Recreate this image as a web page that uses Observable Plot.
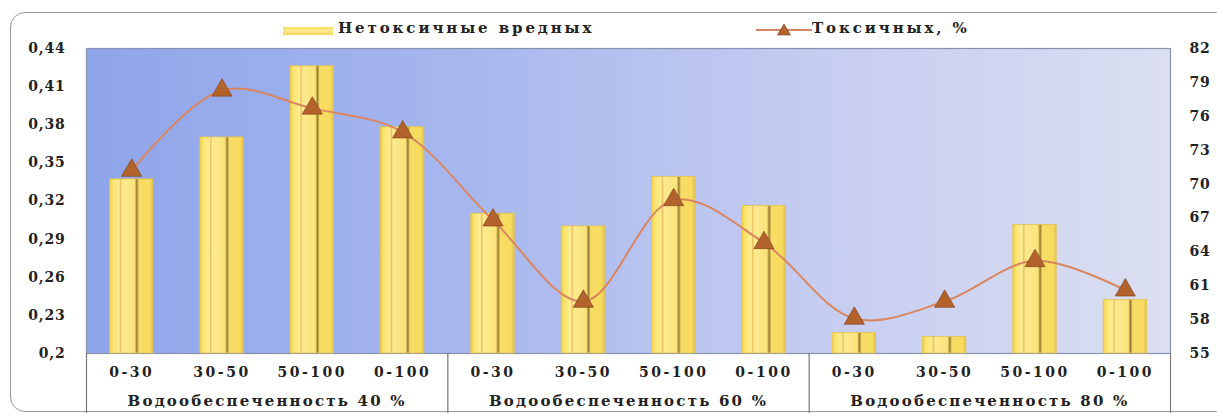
<!DOCTYPE html>
<html>
<head>
<meta charset="utf-8">
<script src="https://cdn.jsdelivr.net/npm/d3@7"></script>
<script src="https://cdn.jsdelivr.net/npm/@observablehq/plot@0.6"></script>
<style>
  html, body { margin: 0; padding: 0; background: #fff; }
  #wrap { position: relative; width: 1217px; height: 416px; overflow: hidden; font-family: "DejaVu Serif", serif; font-weight: bold; color: #222; }
  #box { position: absolute; left: 10px; top: 12px; width: 1240px; height: 400px; border: 1.5px solid #9a9a9a; border-radius: 15px; box-sizing: border-box; }
  #chart { position: absolute; left: 0; top: 0; }
  .leg { position: absolute; font-size: 15px; letter-spacing: 2.9px; white-space: nowrap; }
  #sw { position: absolute; left: 283px; top: 27px; width: 50px; height: 8px; background: linear-gradient(#f7dc5c, #fdeb94 50%, #f5d555); }
  #chart g[aria-label="x-axis tick label"] text { letter-spacing: 2.5px; }
  #chart g[aria-label="y-axis tick label"] text { letter-spacing: 0.8px; }
</style>
</head>
<body>
<div id="wrap">
  <div id="box"></div>
  <div id="chart"></div>
  <div id="sw"></div>
  <div class="leg" style="left:338px; top:19px;">Нетоксичные вредных</div>
  <svg class="leg" style="left:756px; top:22px;" width="56" height="16">
    <line x1="0" y1="8" x2="56" y2="8" stroke="#d98660" stroke-width="2"></line>
    <path d="M28,2 L34.5,13 L21.5,13 Z" fill="#b3622c" stroke="#7a3e18" stroke-width="0.6"></path>
  </svg>
  <div class="leg" style="left:812px; top:19px;">Токсичных, %</div>
</div>
<script>
// ---- data ----
const groups = ["Водообеспеченность 40 %", "Водообеспеченность 60 %", "Водообеспеченность 80 %"];
const depths = ["0-30", "30-50", "50-100", "0-100"];
const nontoxic = [0.337, 0.370, 0.426, 0.378, 0.310, 0.300, 0.339, 0.316, 0.216, 0.213, 0.301, 0.242];
const toxic = [71.2, 78.3, 76.7, 74.6, 66.8, 59.6, 68.6, 64.8, 58.1, 59.6, 63.2, 60.6];
const leftTicks = [0.2, 0.23, 0.26, 0.29, 0.32, 0.35, 0.38, 0.41, 0.44];
const rightTicks = [55, 58, 61, 64, 67, 70, 73, 76, 79, 82];

// ---- build ----
const yMin = leftTicks[0], yMax = leftTicks[leftTicks.length - 1];
const tMin = rightTicks[0], tMax = rightTicks[rightTicks.length - 1];
const toY = t => yMin + (t - tMin) * (yMax - yMin) / (tMax - tMin);
const fromY = v => Math.round(tMin + (v - yMin) * (tMax - tMin) / (yMax - yMin));

const rows = nontoxic.map((v, i) => ({
  i, group: groups[Math.floor(i / depths.length)], depth: depths[i % depths.length],
  nontoxic: v, toxic: toxic[i]
}));
const groupRows = groups.map((g, k) => {
  const idx = rows.filter(r => r.group === g).map(r => r.i);
  return {label: g, center: d3.mean(idx), start: d3.min(idx) - 0.5, end: d3.max(idx) + 0.5};
});
const bounds = Array.from(new Set(groupRows.flatMap(g => [g.start, g.end])));
const half = 0.24;

const plot = Plot.plot({
  width: 1217,
  height: 416,
  marginLeft: 86,
  marginRight: 47,
  marginTop: 48,
  marginBottom: 63,
  style: {fontFamily: "DejaVu Serif", fontWeight: "bold", fontSize: "14px", color: "#222", background: "transparent", overflow: "visible"},
  x: {domain: [-0.5, rows.length - 0.5], axis: null},
  y: {domain: [yMin, yMax], axis: null},
  marks: [
    Plot.frame({fill: "url(#bgGrad)", stroke: "#8891ad", strokeWidth: 1.2}),
    Plot.rectY(rows, {x1: d => d.i - half, x2: d => d.i + half, y1: yMin, y2: "nontoxic",
      fill: "url(#barGrad)", stroke: "#e2c24c", strokeWidth: 0.8}),
    Plot.line(rows, {x: "i", y: d => toY(d.toxic), curve: "catmull-rom", stroke: "#d98660", strokeWidth: 2}),
    Plot.dot(rows, {x: "i", y: d => toY(d.toxic), symbol: "triangle", r: 7.5, fill: "#b3622c", stroke: "#7a3e18", strokeWidth: 0.6}),
    Plot.axisY(leftTicks, {anchor: "left", label: null, tickSize: 0, tickPadding: 21, fontSize: 14, tickFormat: d => String(d).replace(".", ",")}),
    Plot.axisY(rightTicks.map(toY), {anchor: "right", label: null, tickSize: 0, tickPadding: 19, fontSize: 14, tickFormat: fromY}),
    Plot.axisX(rows.map(d => d.i), {anchor: "bottom", label: null, tickSize: 0, tickPadding: 14, fontSize: 14, tickFormat: i => rows[i].depth}),
    Plot.axisX(bounds, {anchor: "bottom", label: null, tickSize: 60, stroke: "#777", strokeWidth: 1.2, tickFormat: () => ""}),
    Plot.text(groupRows, {x: "center", text: "label", frameAnchor: "bottom", dy: 48, lineAnchor: "middle", fontSize: 15, fontWeight: "bold"})
  ]
});

// letter spacing for the group labels
d3.select(plot).selectAll("text")
  .filter(function () { return groups.includes(this.textContent); })
  .style("letter-spacing", "2.2px");

// gradients
const defs = d3.select(plot).insert("defs", ":first-child");
const bg = defs.append("linearGradient").attr("id", "bgGrad").attr("x1", 0).attr("x2", 1).attr("y1", 0).attr("y2", 0);
[[0, "#8fa5ea"], [0.35, "#a7b7ee"], [0.65, "#c3cbf0"], [1, "#dcdff1"]].forEach(([o, c]) =>
  bg.append("stop").attr("offset", o).attr("stop-color", c));
const bar = defs.append("linearGradient").attr("id", "barGrad").attr("x1", 0).attr("x2", 1).attr("y1", 0).attr("y2", 0);
[[0, "#efcf4a"], [0.08, "#fbe46e"], [0.22, "#fdec96"], [0.25, "#ecbf5c"], [0.29, "#fdea90"],
 [0.58, "#fae37a"], [0.63, "#9a7a30"], [0.68, "#f7dc66"], [0.92, "#f8dc60"], [1, "#e4c44c"]].forEach(([o, c]) =>
  bar.append("stop").attr("offset", o).attr("stop-color", c));

document.getElementById("chart").appendChild(plot);
</script>
</body>
</html>
